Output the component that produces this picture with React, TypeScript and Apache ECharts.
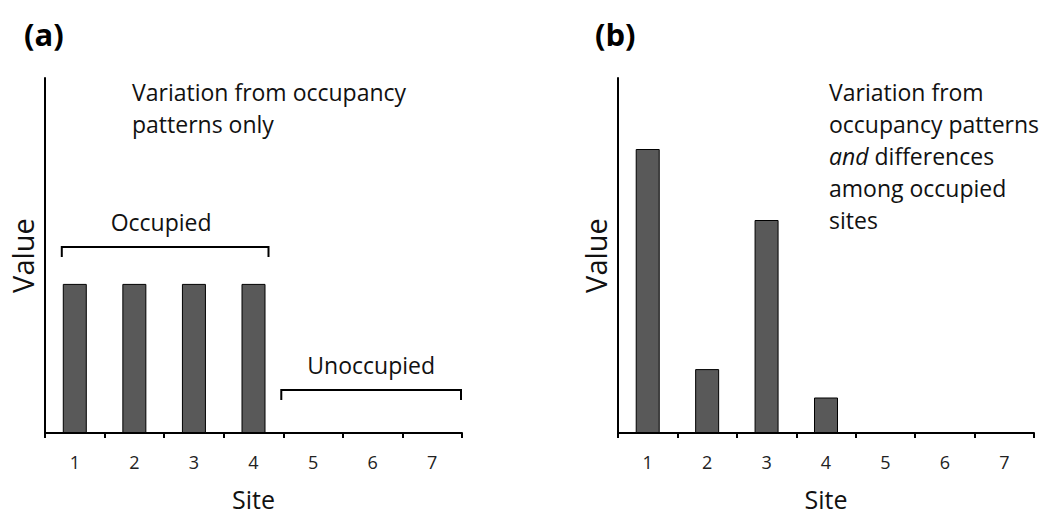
import React, { useEffect, useRef } from "react";
import * as echarts from "echarts";

// Site categories shared by both panels
const sites = ["1", "2", "3", "4", "5", "6", "7"];
// (a) occupancy only: equal values at occupied sites, zero elsewhere
const occupancyOnly = [42, 42, 42, 42, 0, 0, 0];
// (b) occupancy plus differences among occupied sites
const occupancyAndDiff = [80, 18, 60, 10, 0, 0, 0];

const FONT = "'Open Sans', Lato, sans-serif";
const BAR_FILL = "#595959";
const VALUE_MAX = 100;

export default function App() {
  const ref = useRef<HTMLDivElement>(null);

  useEffect(() => {
    document.body.style.margin = "0";
    const chart = echarts.init(ref.current!, undefined, { renderer: "svg" });

    const grids = [
      { left: 45, top: 78, width: 417, height: 355, outerBoundsMode: "none", containLabel: false },
      { left: 618, top: 78, width: 416, height: 355, outerBoundsMode: "none", containLabel: false },
    ];

    const xAxis = grids.map((_, i) => ({
      type: "category" as const,
      gridIndex: i,
      data: sites,
      boundaryGap: true,
      axisLine: { lineStyle: { color: "#000", width: 2 } },
      axisTick: {
        show: true,
        inside: false,
        length: 5,
        alignWithLabel: false,
        lineStyle: { color: "#000", width: 2 },
      },
      axisLabel: { color: "#222", fontFamily: FONT, fontSize: 18, margin: 20 },
      name: "Site",
      nameLocation: "middle" as const,
      nameGap: 53,
      nameTextStyle: { color: "#111", fontFamily: FONT, fontSize: 25 },
    }));

    const yAxis = grids.map((_, i) => ({
      type: "value" as const,
      gridIndex: i,
      min: 0,
      max: VALUE_MAX,
      axisLine: { show: true, lineStyle: { color: "#000", width: 2 } },
      axisTick: { show: false },
      axisLabel: { show: false },
      splitLine: { show: false },
      name: "Value",
      nameLocation: "middle" as const,
      nameGap: 8,
      nameTextStyle: { color: "#111", fontFamily: FONT, fontSize: 29 },
    }));

    const barSeries = (data: number[], i: number) => ({
      type: "bar" as const,
      xAxisIndex: i,
      yAxisIndex: i,
      data,
      barWidth: 24,
      itemStyle: { color: BAR_FILL, borderColor: "#000", borderWidth: 1 },
    });

    chart.setOption({
      animation: false,
      grid: grids,
      xAxis,
      yAxis,
      series: [barSeries(occupancyOnly, 0), barSeries(occupancyAndDiff, 1)],
    });

    // Brackets and captions placed relative to the first panel's axes
    const px = (site: string, value: number) =>
      chart.convertToPixel({ gridIndex: 0 }, [site, value]) as number[];
    const step = 417 / sites.length;

    const occL = px("1", 52.4)[0] - 13;
    const occR = px("4", 52.4)[0] + 15;
    const occY = px("1", 52.4)[1];
    const occEnd = px("1", 49.6)[1];

    const unL = px("5", 12.1)[0] - step / 2 - 2;
    const unR = px("7", 12.1)[0] + step / 2 - 1;
    const unY = px("5", 12.1)[1];
    const unEnd = px("5", 9.3)[1];

    const bracket = (l: number, r: number, y: number, end: number) => ({
      type: "polyline",
      shape: { points: [[l, end], [l, y], [r, y], [r, end]] },
      style: { stroke: "#000", lineWidth: 2, fill: null },
    });

    const text = (x: number, y: number, str: string, extra: any = {}) => ({
      type: "text",
      x,
      y,
      style: {
        text: str,
        fontFamily: FONT,
        fontSize: 23,
        fill: "#111",
        lineHeight: 32,
        ...extra,
      },
    });

    chart.setOption({
      graphic: [
        text(24, 14, "(a)", { fontSize: 31, fontWeight: "bold", fill: "#000", lineHeight: 40 }),
        text(595, 14, "(b)", { fontSize: 31, fontWeight: "bold", fill: "#000", lineHeight: 40 }),
        text(132, 76, "Variation from occupancy\npatterns only"),
        bracket(occL, occR, occY, occEnd),
        text((occL + occR) / 2 - 4, occY - 25, "Occupied", {
          align: "center",
          verticalAlign: "middle",
        }),
        bracket(unL, unR, unY, unEnd),
        text((unL + unR) / 2, unY - 25, "Unoccupied", {
          align: "center",
          verticalAlign: "middle",
        }),
        {
          type: "text",
          x: 829,
          y: 76,
          style: {
            text:
              "Variation from\noccupancy patterns\n{i|and} differences\namong occupied\nsites",
            fontFamily: FONT,
            fontSize: 23,
            fill: "#111",
            lineHeight: 32,
            rich: {
              i: { fontStyle: "italic", fontFamily: FONT, fontSize: 23, fill: "#111", lineHeight: 32 },
            },
          },
        },
      ],
    });

    return () => chart.dispose();
  }, []);

  return <div ref={ref} style={{ width: 1044, height: 516 }} />;
}
